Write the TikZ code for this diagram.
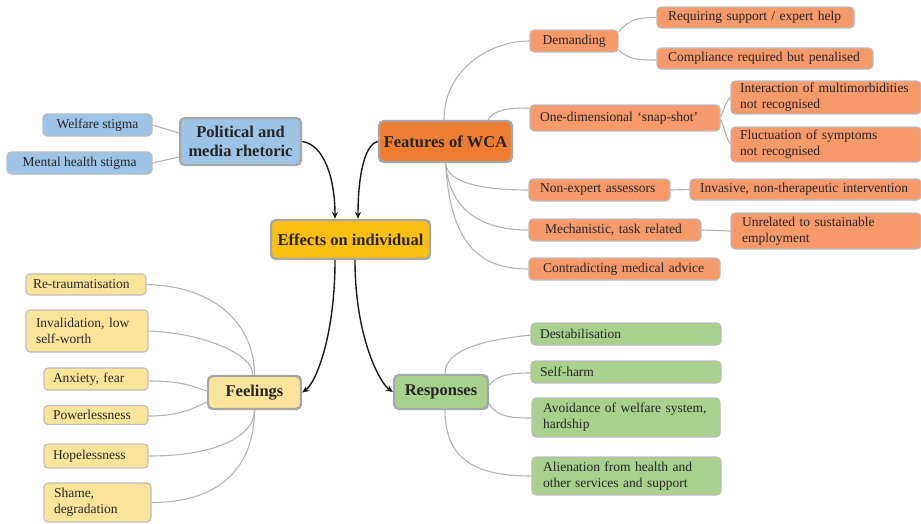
\documentclass[tikz,border=0pt]{standalone}
\usepackage{fontspec}
\setmainfont{Liberation Serif}
\usetikzlibrary{arrows.meta,calc}
\definecolor{bl}{HTML}{9DC3E6}
\definecolor{fo}{HTML}{ED7D31}
\definecolor{ey}{HTML}{FCBF13}
\definecolor{yl}{HTML}{FCE49B}
\definecolor{gr}{HTML}{A9D18E}
\definecolor{ol}{HTML}{F6996B}
\definecolor{txt}{HTML}{262626}
\definecolor{mgray}{HTML}{A6A6A6}
\definecolor{lgray}{HTML}{BDBDBD}
\definecolor{cgray}{HTML}{B3B3B3}
\newcommand\lf{\fontsize{13.5}{16}\selectfont}
\newcommand\mf{\fontsize{16.5}{19}\selectfont\bfseries}
\tikzset{
  base/.style={rounded corners=4pt, text=txt, inner ysep=1pt},
  leaf/.style={base, draw=lgray, line width=1.1pt, font=\lf, align=left},
  mainbox/.style={base, rounded corners=5pt, draw=mgray, line width=2.4pt, font=\mf, align=center, inner xsep=2pt},
  conn/.style={draw=cgray, line width=1.1pt},
  arr/.style={draw=black!90, line width=1.4pt, -{Stealth[length=7pt,width=6pt]}}
}
\begin{document}
\begin{tikzpicture}[x=1pt,y=-1pt]
\useasboundingbox (0,0) rectangle (921,523);
% main nodes
\node[mainbox,fill=bl,minimum width=121pt,minimum height=47pt] (pol) at (240.5,141.5) {Political and\\media rhetoric};
\node[mainbox,fill=fo,minimum width=133pt,minimum height=41pt] (fea) at (445.5,141.5) {Features of WCA};
\node[mainbox,fill=ey,minimum width=159pt,minimum height=39pt] (eff) at (350.5,239.5) {Effects on individual};
\node[mainbox,fill=yl,minimum width=93pt,minimum height=33pt] (fee) at (254.5,392.5) {Feelings};
\node[mainbox,fill=gr,minimum width=94pt,minimum height=34pt] (res) at (441,392) {Responses};
% blue leaves
\node[leaf,fill=bl,minimum width=109pt,minimum height=22pt] (wel) at (97.5,125) {Welfare stigma};
\node[leaf,fill=bl,minimum width=145pt,minimum height=22pt] (men) at (79.5,163) {Mental health stigma};
% orange leaves
\node[leaf,fill=ol,minimum width=88pt,minimum height=22pt] (dem) at (574,41) {Demanding};
\node[leaf,fill=ol,inner xsep=11pt,text width=175pt,minimum height=21pt] (req) at (755.5,17.5) {Requiring support / expert help};
\node[leaf,fill=ol,inner xsep=11pt,text width=194pt,minimum height=21pt] (com) at (765,58.5) {Compliance required but penalised};
\node[leaf,fill=ol,inner xsep=10pt,text width=170pt,minimum height=26pt] (one) at (625,118) {One-dimensional ‘snap-shot’};
\node[leaf,fill=ol,inner xsep=9pt,text width=172pt,minimum height=33pt] (int) at (826,97.5) {Interaction of multimorbidities\\not recognised};
\node[leaf,fill=ol,inner xsep=9pt,text width=172pt,minimum height=35pt] (flu) at (826,144.5) {Fluctuation of symptoms\\not recognised};
\node[leaf,fill=ol,inner xsep=11pt,text width=119pt,minimum height=22pt] (non) at (599.5,190) {Non-expert assessors};
\node[leaf,fill=ol,inner xsep=10pt,text width=211pt,minimum height=21pt] (inv) at (805.5,189.5) {Invasive, non-therapeutic intervention};
\node[leaf,fill=ol,inner xsep=16pt,text width=140pt,minimum height=22pt] (mec) at (615,230) {Mechanistic, task related};
\node[leaf,fill=ol,inner xsep=11pt,text width=168pt,minimum height=36pt] (unr) at (826,231) {Unrelated to sustainable\\employment};
\node[leaf,fill=ol,inner xsep=14pt,text width=163pt,minimum height=22pt] (con) at (624.5,269) {Contradicting medical advice};
% feelings leaves
\node[leaf,fill=yl,inner xsep=7pt,text width=106pt,minimum height=21pt] (ret) at (86,284.5) {Re-traumatisation};
\node[leaf,fill=yl,inner xsep=10pt,text width=102pt,minimum height=42pt] (inl) at (87,331) {Invalidation, low\\self-worth};
\node[leaf,fill=yl,inner xsep=9pt,text width=86pt,minimum height=22pt] (anx) at (96,379) {Anxiety, fear};
\node[leaf,fill=yl,inner xsep=9pt,text width=86pt,minimum height=19pt] (pow) at (96,415) {Powerlessness};
\node[leaf,fill=yl,inner xsep=9pt,text width=86pt,minimum height=24pt] (hop) at (96,456) {Hopelessness};
\node[leaf,fill=yl,inner xsep=10pt,text width=87pt,minimum height=39pt] (sha) at (97.5,502.5) {Shame,\\degradation};
% responses leaves
\node[leaf,fill=gr,inner xsep=9pt,text width=172pt,minimum height=22pt] (des) at (626,334) {Destabilisation};
\node[leaf,fill=gr,inner xsep=9pt,text width=172pt,minimum height=22pt] (sel) at (626,372) {Self-harm};
\node[leaf,fill=gr,inner xsep=11pt,text width=166pt,minimum height=39pt] (avo) at (626,417.5) {Avoidance of welfare system,\\hardship};
\node[leaf,fill=gr,inner xsep=11pt,text width=167pt,minimum height=38pt] (ali) at (626.5,476) {Alienation from health and\\other services and support};
% grey connectors
\begin{scope}[on background layer/.style={}]
\draw[conn] (wel.east) -- ($(pol.west)+(0,-8.5)$);
\draw[conn] (men.east) -- ($(pol.west)+(0,15.5)$);
\draw[conn] ($(fea.north)+(-1.5,0)$) .. controls +(0,-50) and +(-40,0) .. ($(dem.west)+(0,0)$);
\draw[conn] ($(fea.north)+(42.5,0)$) .. controls +(6,-10) and +(-22,0) .. ($(one.west)+(0,-10)$);
\draw[conn] (fea.south) .. controls +(2,20) and +(-45,0) .. ($(non.west)+(0,0)$);
\draw[conn] (fea.south) .. controls +(4,45) and +(-50,0) .. ($(mec.west)+(0,0)$);
\draw[conn] (fea.south) .. controls +(5,80) and +(-50,0) .. ($(con.west)+(0,0)$);
\draw[conn] ($(dem.east)+(0,-9)$) .. controls +(10,-12) and +(-20,0) .. ($(req.west)+(0,0)$);
\draw[conn] ($(dem.east)+(0,9)$) .. controls +(10,9) and +(-20,0) .. ($(com.west)+(0,1.5)$);
\draw[conn] ($(one.east)+(0,-1)$) .. controls +(4,-8) and +(-4,2) .. ($(int.west)+(0,0)$);
\draw[conn] ($(one.east)+(0,1)$) .. controls +(4,8) and +(-4,-3) .. ($(flu.west)+(0,-1)$);
\draw[conn] (non.east) -- (inv.west);
\draw[conn] (mec.east) -- (unr.west);
% feelings
\draw[conn] (ret.east) .. controls +(75,2) and +(0,-45) .. (fee.north);
\draw[conn] (inl.east) .. controls +(55,2) and +(2,-20) .. ($(fee.north)+(-2,0)$);
\draw[conn] ($(anx.east)+(0,2)$) .. controls +(35,0) and +(-12,-4) .. ($(fee.west)+(0,-1.5)$);
\draw[conn] ($(pow.east)+(0,1)$) .. controls +(35,0) and +(-12,5) .. ($(fee.west)+(0,9.5)$);
\draw[conn] (hop.east) .. controls +(70,0) and +(0,25) .. (fee.south);
\draw[conn] (sha.east) .. controls +(80,0) and +(0,45) .. (fee.south);
% responses
\draw[conn] ($(res.north)+(4,0)$) .. controls +(0,-25) and +(-45,5) .. ($(des.west)+(0,1)$);
\draw[conn] ($(res.east)+(0,-7)$) .. controls +(8,-10) and +(-20,0) .. ($(sel.west)+(0,1)$);
\draw[conn] ($(res.east)+(0,12)$) .. controls +(8,13) and +(-20,0) .. ($(avo.west)+(0,0.5)$);
\draw[conn] ($(res.south)+(4,0)$) .. controls +(0,50) and +(-55,0) .. (ali.west);
\end{scope}
% black arrows
\draw[arr] (pol.east) .. controls +(22,3) and +(0,-40) .. ($(eff.north)+(-15.5,0)$);
\draw[arr] (fea.west) .. controls +(-14,3) and +(0,-40) .. ($(eff.north)+(7.5,0)$);
\draw[arr] ($(eff.south)+(-15.5,0)$) .. controls +(0,75) and +(14,-10) .. (fee.east);
\draw[arr] ($(eff.south)+(4.5,0)$) .. controls +(0,75) and +(-14,-10) .. (res.west);
\end{tikzpicture}
\end{document}
